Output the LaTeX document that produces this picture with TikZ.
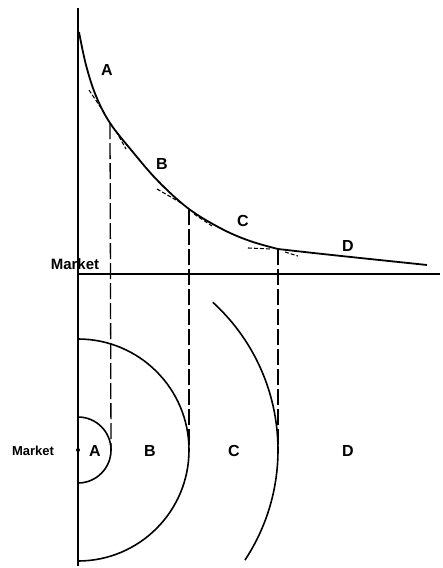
\documentclass[tikz,border=0pt]{standalone}
\usepackage{fontspec}
\setmainfont{Liberation Sans}
\begin{document}
\begin{tikzpicture}[x=1pt,y=-1pt,
  axis/.style={line width=2.6pt},
  curve/.style={line width=1.8pt},
  guide/.style={line width=1.3pt,dash pattern=on 16pt off 4pt},
  tang/.style={line width=1.1pt,dash pattern=on 4pt off 2pt},
  arc/.style={line width=1.6pt},
  lab/.style={font=\bfseries\fontsize{16}{16}\selectfont,inner sep=1pt},
  mlab/.style={font=\bfseries\fontsize{13}{13}\selectfont,inner sep=1pt}]
\useasboundingbox (0,0) rectangle (443,568);
% axes
\coordinate (top) at (78,8);
\coordinate (bot) at (78,566);
\coordinate (ml) at (78,274);
\coordinate (mr) at (440,274);
\draw[axis] (top) -- (bot);
\draw[axis] (ml) -- (mr);
% kink points
\coordinate (k0) at (79,32);
\coordinate (k1) at (110,123);
\coordinate (k2) at (189,209);
\coordinate (k3) at (278,249);
\coordinate (k4) at (427,265);
% curve
\draw[curve] plot[smooth,tension=0.6] coordinates {(79,32) (86,65) (96,96) (110,123) (132,151) (158,181) (189,209) (222,229) (250,241) (278,249)};
\draw[curve] (k3) .. controls (330,255) and (380,260) .. (k4);
% tangent dashes
\draw[tang] (89,90) -- (105,114);
\draw[tang] (116,131) -- (126,149);
\draw[tang] (157,189) -- (183,204);
\draw[tang] (194,214) -- (212,226);
\draw[tang] (248,248) -- (271,249);
\draw[tang] (285,252) -- (298,256);
% circle centre
\coordinate (c) at (78,450);
\fill (c) circle (2pt);
% arcs
\draw[arc] (78,417) arc[start angle=-90,end angle=90,radius=33];
\draw[arc] (78,339) arc[start angle=-90,end angle=90,radius=111];
\draw[arc] (c) ++(-47.6:200) arc[start angle=-47.6,end angle=33.4,radius=200];
% guide lines
\coordinate (g1) at (111,450);
\coordinate (g2) at (189,450);
\coordinate (g3) at (278,450);
\draw[guide] (k1) -- (g1);
\draw[guide] (k2) -- (g2);
\draw[guide] (k3) -- (g3);
% labels
\node[lab] (la) at (107,70) {A};
\node[lab] (lb) at (162,164) {B};
\node[lab] (lc) at (243,221) {C};
\node[lab] (ld) at (348,246) {D};
\node[mlab,font=\bfseries\fontsize{15}{15}\selectfont] (m1) at (75,264) {Market};
\node[mlab] (m2) at (33,451) {Market};
\node[lab] (la2) at (95,451) {A};
\node[lab] (lb2) at (150,451) {B};
\node[lab] (lc2) at (234,451) {C};
\node[lab] (ld2) at (348,451) {D};
\end{tikzpicture}
\end{document}
